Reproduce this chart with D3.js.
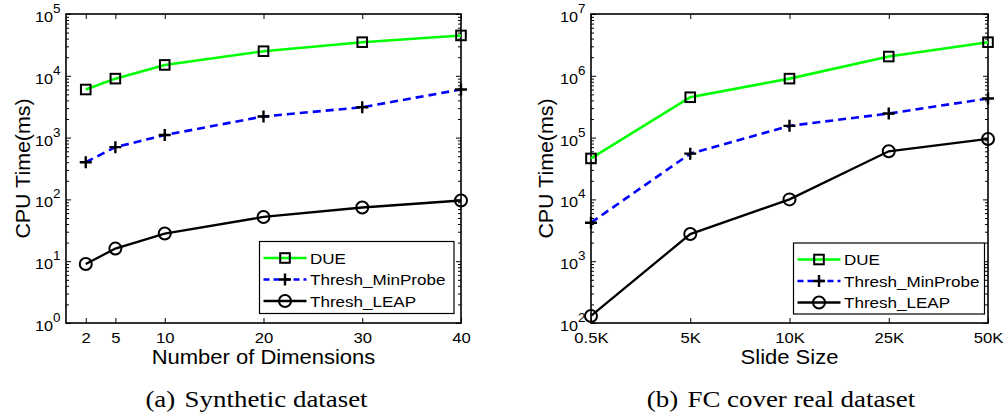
<!DOCTYPE html>
<html><head><meta charset="utf-8">
<script src="https://cdn.jsdelivr.net/npm/d3@7"></script>
<style>
html,body{margin:0;padding:0;background:#fff;}
svg{display:block;}
text{font-family:"Liberation Sans",Arial,Helvetica,sans-serif;fill:#000;}
</style></head>
<body>
<svg id="chart" width="1006" height="418"></svg>
<script>
// ---------- data ----------
const seriesNames = ["DUE", "Thresh_MinProbe", "Thresh_LEAP"];
// (a) Synthetic dataset
const dims = [2, 5, 10, 20, 30, 40];
const dimTicks = [2, 5, 10, 20, 30, 40];
const dueA = [6000, 9000, 15000, 25000, 35000, 45000];
const minProbeA = [400, 700, 1100, 2200, 3100, 6000];
const leapA = [9, 16, 28, 52, 74, 96];
const yTicksA = [1, 10, 100, 1000, 10000, 100000];
// (b) FC cover real dataset
const slideSizes = ["0.5K", "5K", "10K", "25K", "50K"];
const dueB = [46000, 450000, 900000, 2050000, 3500000];
const minProbeB = [4200, 55000, 155000, 245000, 430000];
const leapB = [130, 2750, 10000, 60000, 95000];
const yTicksB = [100, 1000, 10000, 100000, 1000000, 10000000];
const xTitles = ["Number of Dimensions", "Slide Size"];
const yTitle = "CPU Time(ms)";
const captions = [["(a)", "Synthetic dataset"], ["(b)", "FC cover real dataset"]];

// ---------- styles ----------
const styles = [
  {color: "#00ff00", dash: null, marker: "square", width: 2.6},
  {color: "#0000ff", dash: "8,5", marker: "plus", width: 2.6},
  {color: "#000000", dash: null, marker: "circle", width: 2.3}
];

const svg = d3.select("#chart");

function drawMarker(g, type, x, y) {
  if (type === "square") {
    g.append("rect").attr("x", x - 4.8).attr("y", y - 4.8).attr("width", 9.6).attr("height", 9.6)
      .attr("fill", "none").attr("stroke", "#000").attr("stroke-width", 2);
  } else if (type === "plus") {
    g.append("path").attr("d", `M${x-6},${y}H${x+6}M${x},${y-6}V${y+6}`)
      .attr("fill", "none").attr("stroke", "#000").attr("stroke-width", 2.4);
  } else {
    g.append("circle").attr("cx", x).attr("cy", y).attr("r", 6)
      .attr("fill", "none").attr("stroke", "#000").attr("stroke-width", 2);
  }
}

function minorTicks(domain) {
  const out = [];
  for (let e = Math.round(Math.log10(domain[0])); e < Math.round(Math.log10(domain[1])); e++) {
    for (let m = 2; m <= 9; m++) out.push(m * Math.pow(10, e));
  }
  return out;
}

function panel(cfg) {
  const {x, y, xCats, series, yTicks, xTickVals, xTitle, legend, caption, ylabX} = cfg;
  const g = svg.append("g");
  const [L, R] = x.range();
  const [B, T] = y.range();

  // y axis left with labels
  const yAx = g.append("g").attr("transform", `translate(${L},0)`)
    .call(d3.axisLeft(y).tickValues(yTicks).tickSizeInner(-5).tickSizeOuter(0).tickPadding(5).tickFormat(""));
  yAx.select(".domain").remove();
  yAx.selectAll(".tick line").attr("stroke-width", 1);
  yAx.selectAll(".tick text").each(function(d) {
    const t = d3.select(this);
    t.attr("font-size", 14.5).attr("dy", "0.52em").attr("transform", "scale(1.12,1)");
    t.append("tspan").text("10");
    t.append("tspan").attr("dy", -9).attr("font-size", 12).text(Math.round(Math.log10(d)));
  });
  // minor y ticks left/right
  const minors = minorTicks(y.domain());
  const yMinL = g.append("g").attr("transform", `translate(${L},0)`)
    .call(d3.axisLeft(y).tickValues(minors).tickSizeInner(-3).tickSizeOuter(0).tickFormat(""));
  yMinL.select(".domain").remove();
  const yMinR = g.append("g").attr("transform", `translate(${R},0)`)
    .call(d3.axisRight(y).tickValues(minors).tickSizeInner(-3).tickSizeOuter(0).tickFormat(""));
  yMinR.select(".domain").remove();
  const yMajR = g.append("g").attr("transform", `translate(${R},0)`)
    .call(d3.axisRight(y).tickValues(yTicks).tickSizeInner(-5).tickSizeOuter(0).tickFormat(""));
  yMajR.select(".domain").remove();

  // x axis
  const xb = xCats ? d3.axisBottom(x) : d3.axisBottom(x).tickValues(xTickVals);
  const xAx = g.append("g").attr("transform", `translate(0,${B})`)
    .call(xb.tickSizeInner(-5).tickSizeOuter(0).tickPadding(9.5));
  xAx.select(".domain").remove();
  xAx.selectAll(".tick text").attr("font-size", 14.5).attr("transform", "scale(1.15,1)")
    .attr("font-family", '"Liberation Sans",Arial,sans-serif');
  xAx.selectAll(".tick text").attr("x", 0);
  const xt = xCats ? d3.axisTop(x) : d3.axisTop(x).tickValues(xTickVals);
  const xTop = g.append("g").attr("transform", `translate(0,${T})`)
    .call(xt.tickSizeInner(-5).tickSizeOuter(0).tickFormat(""));
  xTop.select(".domain").remove();

  // frame
  g.append("rect").attr("x", L).attr("y", T).attr("width", R - L).attr("height", B - T)
    .attr("fill", "none").attr("stroke", "#000").attr("stroke-width", 1.6);

  // series
  const xOf = (d, i) => xCats ? x(xCats[i]) : x(d);
  const xs = xCats ? xCats : cfg.xVals;
  series.forEach((vals, si) => {
    const st = styles[si];
    const line = d3.line().x((d, i) => xCats ? x(xCats[i]) : x(cfg.xVals[i])).y(d => y(d));
    g.append("path").datum(vals).attr("d", line).attr("fill", "none")
      .attr("stroke", st.color).attr("stroke-width", st.width)
      .attr("stroke-dasharray", st.dash);
  });
  series.forEach((vals, si) => {
    const st = styles[si];
    const mg = g.append("g");
    vals.forEach((v, i) => {
      const px = xCats ? x(xCats[i]) : x(cfg.xVals[i]);
      drawMarker(mg, st.marker, px, y(v));
    });
  });

  // legend
  const lg = g.append("g").attr("transform", `translate(${legend.x},${legend.y})`);
  lg.append("rect").attr("x", 0).attr("y", 0).attr("width", legend.w).attr("height", legend.h)
    .attr("fill", "#fff").attr("stroke", "#000").attr("stroke-width", 1.2);
  seriesNames.forEach((name, si) => {
    const st = styles[si];
    const ey = 16.5 + si * 21.5;
    lg.append("line").attr("x1", 4).attr("x2", 47).attr("y1", ey).attr("y2", ey)
      .attr("stroke", st.color).attr("stroke-width", st.width).attr("stroke-dasharray", st.dash ? "6,4" : null);
    drawMarker(lg, st.marker, 25.5, ey);
    lg.append("text").attr("transform", `translate(50.5,${ey + 5.6}) scale(1.1,1)`)
      .attr("font-size", 15.5).text(name);
  });

  // axis titles
  g.append("text").attr("transform", `translate(${(L + R) / 2},${B + 41}) scale(1.1,1)`)
    .attr("text-anchor", "middle").attr("font-size", 20).text(xTitle);
  g.append("text").attr("transform", `translate(${ylabX},${(T + B) / 2}) rotate(-90) scale(1.07,1)`)
    .attr("text-anchor", "middle").attr("font-size", 20).text(yTitle);

  // caption
  const ct = g.append("text").attr("transform", `translate(${cfg.capX},407) scale(1.17,1)`)
    .attr("text-anchor", "middle").attr("font-size", 23)
    .style("font-family", '"Liberation Serif","Times New Roman",serif');
  ct.append("tspan").text(caption[0]);
  ct.append("tspan").attr("dx", 8).text(caption[1]);
}

// panel (a)
const xA = d3.scaleLinear().domain([0, 40]).range([66, 461]);
const yA = d3.scaleLog().domain([1, 100000]).range([323, 14]);
panel({x: xA, y: yA, xVals: dims, xTickVals: dimTicks, series: [dueA, minProbeA, leapA],
  yTicks: yTicksA, xTitle: xTitles[0], caption: captions[0], capX: 256.5, ylabX: 30,
  legend: {x: 259.5, y: 241.5, w: 194.5, h: 72}});

// panel (b)
const xB = d3.scalePoint().domain(slideSizes).range([591, 988]).padding(0);
const yB = d3.scaleLog().domain([100, 10000000]).range([323, 14]);
panel({x: xB, y: yB, xCats: slideSizes, series: [dueB, minProbeB, leapB],
  yTicks: yTicksB, xTitle: xTitles[1], caption: captions[1], capX: 781, ylabX: 553,
  legend: {x: 793.5, y: 243, w: 191, h: 71}});
</script>
</body></html>
